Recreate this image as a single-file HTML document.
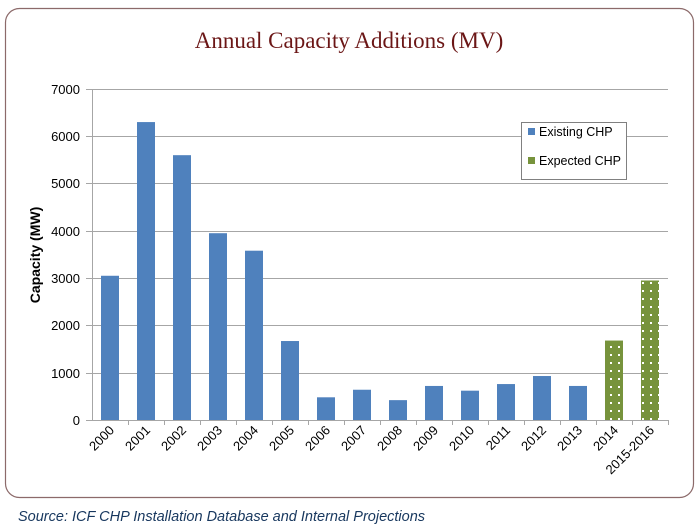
<!DOCTYPE html>
<html><head><style>
body{margin:0;background:#fff;width:699px;height:529px;overflow:hidden}
svg{display:block}
</style></head><body>
<svg width="699" height="529" xmlns="http://www.w3.org/2000/svg" font-family="Liberation Sans, sans-serif">
<defs>
<pattern id="dots" width="8" height="8" patternUnits="userSpaceOnUse">
<rect width="8" height="8" fill="#77933c"/>
<rect x="2" y="2" width="2" height="2" fill="#fff"/>
</pattern>
</defs>
<rect x="5.5" y="8.5" width="688" height="489" rx="14" fill="#fff" stroke="#8c6a6a" stroke-width="1.2"/>
<text x="349" y="48" text-anchor="middle" font-family="Liberation Serif, serif" font-size="23" fill="#6b1616">Annual Capacity Additions (MV)</text>
<g stroke="#a6a6a6" stroke-width="1">
<line x1="86" y1="89.5" x2="668" y2="89.5"/>
<line x1="86" y1="136.5" x2="668" y2="136.5"/>
<line x1="86" y1="183.5" x2="668" y2="183.5"/>
<line x1="86" y1="231.5" x2="668" y2="231.5"/>
<line x1="86" y1="278.5" x2="668" y2="278.5"/>
<line x1="86" y1="325.5" x2="668" y2="325.5"/>
<line x1="86" y1="373.5" x2="668" y2="373.5"/>
<line x1="86" y1="420.5" x2="668" y2="420.5"/>
<line x1="92.5" y1="89" x2="92.5" y2="420"/>
</g>
<g font-size="13" text-anchor="end" fill="#000">
<text x="80" y="94">7000</text><text x="80" y="141">6000</text><text x="80" y="188">5000</text>
<text x="80" y="236">4000</text><text x="80" y="283">3000</text><text x="80" y="330">2000</text>
<text x="80" y="378">1000</text><text x="80" y="425">0</text>
</g>
<text transform="translate(40,255) rotate(-90)" text-anchor="middle" font-size="14" font-weight="bold">Capacity (MW)</text>
<g id="bars"></g>
<g id="ticks" stroke="#a6a6a6"></g>
<g id="labels" font-size="13"></g>
<rect x="521.5" y="122.5" width="105" height="57" fill="#fff" stroke="#808080"/>
<rect x="528" y="128" width="7" height="7" fill="#4f81bd"/>
<text x="539" y="136" font-size="12.5">Existing CHP</text>
<rect x="528" y="157" width="7" height="7" fill="#77933c"/>
<text x="539" y="165" font-size="12.5">Expected CHP</text>
<text x="18" y="521" font-size="14.5" font-style="italic" fill="#17375e">Source: ICF CHP Installation Database and Internal Projections</text>
<script>
var v=[3050,6300,5600,3950,3580,1670,480,640,420,720,620,760,930,720,1680,2950];
var l=["2000","2001","2002","2003","2004","2005","2006","2007","2008","2009","2010","2011","2012","2013","2014","2015-2016"];
var ns="http://www.w3.org/2000/svg",b=document.getElementById("bars"),t=document.getElementById("ticks"),lb=document.getElementById("labels");
for(var i=0;i<16;i++){var c=92+36*i+18,h=v[i]*0.04729;
var r=document.createElementNS(ns,"rect");r.setAttribute("x",c-9);r.setAttribute("y",420-h);r.setAttribute("width",18);r.setAttribute("height",h);r.setAttribute("fill",i<14?"#4f81bd":"url(#dots)");b.appendChild(r);
var k=document.createElementNS(ns,"line");var x=92.5+36*(i+1);k.setAttribute("x1",x);k.setAttribute("x2",x);k.setAttribute("y1",420);k.setAttribute("y2",425);t.appendChild(k);
var tx=document.createElementNS(ns,"text");tx.setAttribute("text-anchor","end");tx.setAttribute("transform","translate("+(c+5)+",431) rotate(-45)");tx.textContent=l[i];lb.appendChild(tx);}
</script>
</svg>
</body></html>
